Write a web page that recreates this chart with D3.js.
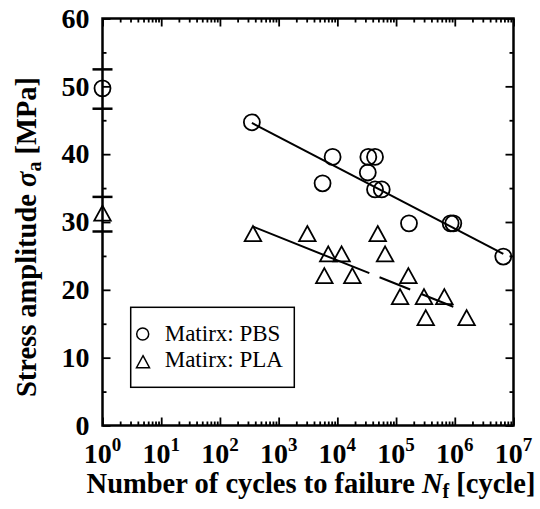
<!DOCTYPE html>
<html>
<head>
<meta charset="utf-8">
<script src="https://cdn.jsdelivr.net/npm/d3@7"></script>
</head>
<body style="margin:0">
<script>
// Data
const pbsCycles = [350, 5600, 8300, 33000, 33700, 43800, 43800, 57000, 166000, 850000, 944000, 6700000];
const pbsStress = [44.7, 35.7, 39.6, 37.3, 39.6, 39.6, 34.8, 34.8, 29.8, 29.8, 29.8, 24.9];
const plaCycles = [365, 3080, 7000, 11800, 65000, 48700, 6000, 18000, 162000, 117000, 299000, 664000, 320000, 1590000];
const plaStress = [28.3, 28.3, 25.3, 25.3, 25.3, 28.3, 22.1, 22.1, 22.1, 19.0, 19.0, 19.0, 15.9, 15.9];

// static strength (N = 1) with scatter bands
const pbsStatic = { n: 1, s: 49.7, lo: 46.7, hi: 52.5 };
const plaStatic = { n: 1, s: 31.3, lo: 28.6, hi: 33.7 };

// fitted S-N lines (end points)
const pbsFitN = [350, 6700000];
const pbsFitS = [44.6, 25.3];
const plaFitN = [370, 944000];
const plaFitS = [29.3, 17.5];

const xMajor = [0, 1, 2, 3, 4, 5, 6, 7];
const yMajor = [0, 10, 20, 30, 40, 50, 60];
const yMinor = [5, 15, 25, 35, 45, 55];
const legendLabels = ["Matirx: PBS", "Matirx: PLA"];

const FONT = '"Liberation Serif"';

const margin = { top: 18.5, left: 102.5 },
    width = 411,
    height = 407;

const svg = d3.select("body")
    .append("svg")
    .attr("width", 540)
    .attr("height", 509);

const g = svg.append("g")
    .attr("transform", `translate(${margin.left},${margin.top})`);

const x = d3.scaleLog().domain([1, 1e7]).range([0, width]);
const y = d3.scaleLinear().domain([0, 60]).range([height, 0]);

const xMinor = [];
xMajor.slice(0, -1).forEach(e => {
    for (let k = 2; k <= 9; k++) xMinor.push(k * Math.pow(10, e));
});
const xMajorVals = xMajor.map(e => Math.pow(10, e));

// ticks (inward, all four sides)
function tickAxis(axis, vals, size, tr) {
    const a = g.append("g")
        .attr("transform", tr)
        .call(axis.tickValues(vals).tickSize(-size).tickFormat(""));
    a.select(".domain").remove();
    a.selectAll("text").remove();
    a.selectAll("line").attr("stroke", "#000").attr("stroke-width", 1.8);
}
tickAxis(d3.axisBottom(x), xMajorVals, 8, `translate(0,${height})`);
tickAxis(d3.axisBottom(x), xMinor, 4, `translate(0,${height})`);
tickAxis(d3.axisTop(x), xMajorVals, 8, "translate(0,0)");
tickAxis(d3.axisTop(x), xMinor, 4, "translate(0,0)");
tickAxis(d3.axisLeft(y), yMajor, 8, "translate(0,0)");
tickAxis(d3.axisLeft(y), yMinor, 4, "translate(0,0)");
tickAxis(d3.axisRight(y), yMajor, 8, `translate(${width},0)`);
tickAxis(d3.axisRight(y), yMinor, 4, `translate(${width},0)`);

// frame
g.append("rect")
    .attr("width", width)
    .attr("height", height)
    .attr("fill", "none")
    .attr("stroke", "#000")
    .attr("stroke-width", 2.5);

// y tick labels
g.selectAll(".ylab")
    .data(yMajor)
    .enter()
    .append("text")
    .style("font-family", FONT)
    .style("font-weight", "bold")
    .style("font-size", "28px")
    .attr("x", -13)
    .attr("y", d => y(d))
    .attr("dy", "0.33em")
    .attr("text-anchor", "end")
    .text(d => d);

// x tick labels 10^n
const xl = g.selectAll(".xlab")
    .data(xMajor)
    .enter()
    .append("text")
    .style("font-family", FONT)
    .style("font-weight", "bold")
    .style("font-size", "28px")
    .attr("x", d => x(Math.pow(10, d)))
    .attr("y", height + 37)
    .attr("text-anchor", "middle");
xl.append("tspan").text("10");
xl.append("tspan")
    .attr("dy", -12)
    .style("font-size", "19px")
    .text(d => d);

// axis titles
const xt = g.append("text")
    .style("font-family", FONT)
    .style("font-weight", "bold")
    .style("font-size", "28.5px")
    .attr("x", width / 2 + 3)
    .attr("y", height + 67)
    .attr("text-anchor", "middle");
xt.append("tspan").text("Number of cycles to failure ");
xt.append("tspan").style("font-style", "italic").text("N");
xt.append("tspan").attr("dy", 5).style("font-size", "20px").text("f");
xt.append("tspan").attr("dy", -5).text(" [cycle]");

const yt = svg.append("text")
    .style("font-family", FONT)
    .style("font-weight", "bold")
    .style("font-size", "28.5px")
    .attr("transform", `translate(36,${237}) rotate(-90)`)
    .attr("text-anchor", "middle");
yt.append("tspan").text("Stress amplitude ");
yt.append("tspan").style("font-style", "italic").text("σ");
yt.append("tspan").attr("dy", 5).style("font-size", "20px").text("a");
yt.append("tspan").attr("dy", -5).text(" [MPa]");

// scatter bands at N = 1
[pbsStatic, plaStatic].forEach(d => {
    [d.lo, d.hi].forEach(v => {
        g.append("line")
            .attr("x1", x(d.n) - 10).attr("x2", x(d.n) + 10)
            .attr("y1", y(v)).attr("y2", y(v))
            .attr("stroke", "#000")
            .attr("stroke-width", 2.5);
    });
});

// fit lines
const line = d3.line()
    .x(d => x(d[0]))
    .y(d => y(d[1]));

g.append("path")
    .datum(d3.zip(pbsFitN, pbsFitS))
    .attr("d", line)
    .attr("fill", "none")
    .attr("stroke", "#000")
    .attr("stroke-width", 2);

g.append("path")
    .datum(d3.zip(plaFitN, plaFitS))
    .attr("d", line)
    .attr("fill", "none")
    .attr("stroke", "#000")
    .attr("stroke-width", 2)
    .attr("stroke-dasharray", "125 11 33 12");

// markers
const tri = (w, h) => `M0,${-h / 2}L${w / 2},${h / 2}L${-w / 2},${h / 2}Z`;

const pbsPts = d3.zip(pbsCycles, pbsStress).concat([[pbsStatic.n, pbsStatic.s]]);
const plaPts = d3.zip(plaCycles, plaStress).concat([[plaStatic.n, plaStatic.s]]);

g.selectAll(".pbs")
    .data(pbsPts)
    .enter()
    .append("circle")
    .attr("cx", d => x(d[0]))
    .attr("cy", d => y(d[1]))
    .attr("r", 8)
    .attr("fill", "none")
    .attr("stroke", "#000")
    .attr("stroke-width", 1.8);

g.selectAll(".pla")
    .data(plaPts)
    .enter()
    .append("path")
    .attr("transform", d => `translate(${x(d[0])},${y(d[1])})`)
    .attr("d", tri(16.5, 15))
    .attr("fill", "none")
    .attr("stroke", "#000")
    .attr("stroke-width", 1.8);

// legend
const legend = svg.append("g").attr("transform", "translate(130.7,307.3)");
legend.append("rect")
    .attr("width", 163.6)
    .attr("height", 80)
    .attr("fill", "#fff")
    .attr("stroke", "#000")
    .attr("stroke-width", 1.5);

legend.append("circle")
    .attr("cx", 12).attr("cy", 26.7).attr("r", 6)
    .attr("fill", "none").attr("stroke", "#000").attr("stroke-width", 1.5);
legend.append("path")
    .attr("transform", "translate(12.3,54.4)")
    .attr("d", tri(13, 12))
    .attr("fill", "none").attr("stroke", "#000").attr("stroke-width", 1.5);

legend.selectAll(".lt")
    .data(legendLabels)
    .enter()
    .append("text")
    .style("font-family", FONT)
    .style("font-size", "23px")
    .attr("x", 34)
    .attr("y", (d, i) => 34 + i * 25.6)
    .text(d => d);
</script>
</body>
</html>
